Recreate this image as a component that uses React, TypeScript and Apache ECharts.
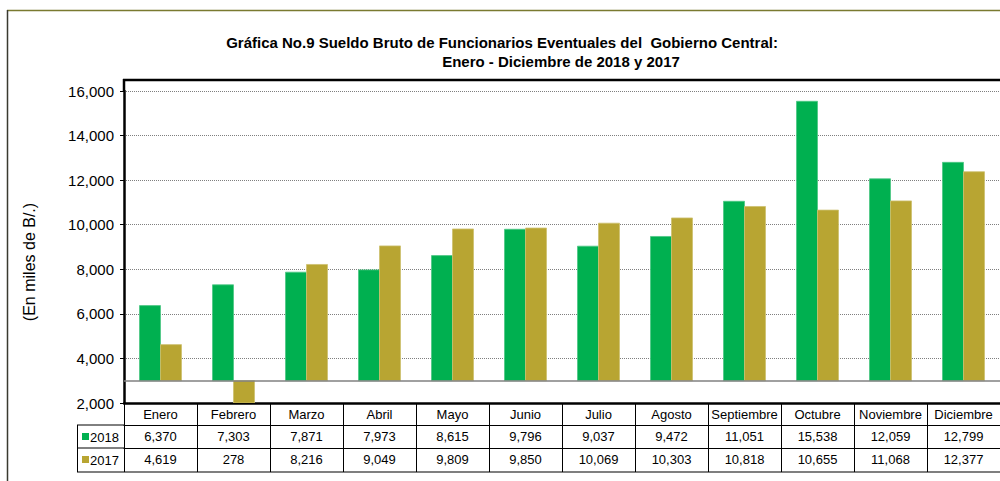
import React, { useEffect, useRef } from "react";
import * as echarts from "echarts";

const months = ["Enero", "Febrero", "Marzo", "Abril", "Mayo", "Junio", "Julio", "Agosto", "Septiembre", "Octubre", "Noviembre", "Diciembre"];
const values2018 = [6370, 7303, 7871, 7973, 8615, 9796, 9037, 9472, 11051, 15538, 12059, 12799];
const values2017 = [4619, 278, 8216, 9049, 9809, 9850, 10069, 10303, 10818, 10655, 11068, 12377];
const seriesNames = ["2018", "2017"];
const yMin = 2000;
const yMax = 16000;
const yStep = 2000;
const baseValue = 3000;
const titleLine1 = "Gráfica No.9 Sueldo Bruto de Funcionarios Eventuales del  Gobierno Central:";
const titleLine2 = "Enero - Diciembre de 2018 y 2017";
const yName = "(En miles de B/.)";

const GREEN = "#00B050";
const GOLD = "#B8A532";
const FONT = "'Liberation Sans', Arial, sans-serif";

const fmt = (v: number) => v.toLocaleString("en-US");

export default function App() {
  const ref = useRef<HTMLDivElement>(null);
  useEffect(() => {
    if (!ref.current) return;
    const chart = echarts.init(ref.current, undefined, { renderer: "svg" });
    const gridLeft = 124;
    const gridTop = 91;
    const gridHeight = 312;
    const gridWidth = 884;

    const tableAxis = (labels: string[], offset: number, tickLen: number, lineW: number) => ({
      type: "category",
      data: labels,
      position: "bottom",
      offset,
      gridIndex: 0,
      axisLine: { show: true, lineStyle: { color: "#000", width: lineW } },
      axisTick: { show: true, length: tickLen, lineStyle: { color: "#000", width: 1 } },
      axisLabel: { show: true, margin: 5, fontSize: 13, color: "#000", fontFamily: FONT, interval: 0 },
      splitLine: { show: false },
    });

    const barW = 21;
    const renderBar = (color: string, left: boolean) => (params: any, api: any) => {
      const idx = params.dataIndex;
      const v = api.value(1);
      const top = api.coord([idx, v]);
      const base = api.coord([idx, baseValue]);
      const x = left ? top[0] - barW : top[0];
      const cs = params.coordSys;
      const clipTop = cs.y;
      const clipBottom = cs.y + cs.height;
      let y1 = Math.min(top[1], base[1]);
      let y2 = Math.max(top[1], base[1]);
      y1 = Math.max(y1, clipTop);
      y2 = Math.min(y2, clipBottom);
      return {
        type: "rect",
        shape: { x, y: y1, width: barW, height: y2 - y1 },
        style: { fill: color, stroke: echarts.color.lift(color, 0.3), lineWidth: 0.8 },
      };
    };

    chart.setOption({
      animation: false,
      backgroundColor: "#fff",
      grid: { left: gridLeft, top: gridTop, width: gridWidth, height: gridHeight, containLabel: false },
      xAxis: [
        {
          ...tableAxis(months, 0, 22, 2),
          axisLine: { show: true, lineStyle: { color: "#000", width: 2.5 } },
        },
        tableAxis(values2018.map(fmt), 22, 23, 1),
        tableAxis(values2017.map(fmt), 45, 24, 1),
      ],
      yAxis: {
        type: "value",
        min: yMin,
        max: yMax,
        interval: yStep,
        axisLine: { show: true, lineStyle: { color: "#000", width: 2.5 } },
        axisTick: { show: true, length: 4, lineStyle: { color: "#000" } },
        axisLabel: {
          fontSize: 15,
          color: "#000",
          fontFamily: FONT,
          margin: 10,
          formatter: (v: number) => fmt(v),
        },
        splitLine: { show: true, lineStyle: { color: "#7f7f7f", type: "dotted", width: 1 } },
      },
      series: [
        {
          name: seriesNames[0],
          type: "custom",
          xAxisIndex: 0,
          renderItem: renderBar(GREEN, true),
          encode: { x: 0, y: 1 },
          data: values2018.map((v, i) => [i, v]),
          clip: true,
          z: 3,
        },
        {
          name: seriesNames[1],
          type: "custom",
          xAxisIndex: 0,
          renderItem: renderBar(GOLD, false),
          encode: { x: 0, y: 1 },
          data: values2017.map((v, i) => [i, v]),
          clip: true,
          z: 3,
        },
        {
          type: "line",
          xAxisIndex: 0,
          data: [],
          markLine: {
            silent: true,
            symbol: "none",
            label: { show: false },
            lineStyle: { color: "#808080", width: 1.5, type: "solid" },
            data: [{ yAxis: baseValue }],
          },
          z: 4,
        },
      ],
      graphic: [
        // outer border
        { type: "line", shape: { x1: 7, y1: 10.5, x2: 1000, y2: 10.5 }, style: { stroke: "#7A7A30", lineWidth: 1.5 } },
        { type: "line", shape: { x1: 7.5, y1: 10, x2: 7.5, y2: 481 }, style: { stroke: "#3A3A30", lineWidth: 1.5 } },
        // plot frame
        { type: "line", shape: { x1: gridLeft - 1, y1: 80, x2: 1000, y2: 80 }, style: { stroke: "#000", lineWidth: 2.5 } },
        { type: "line", shape: { x1: gridLeft, y1: 79, x2: gridLeft, y2: gridTop }, style: { stroke: "#000", lineWidth: 2.5 } },
        // table legend column
        { type: "line", shape: { x1: 77, y1: 425, x2: gridLeft, y2: 425 }, style: { stroke: "#000", lineWidth: 1 } },
        { type: "line", shape: { x1: 77, y1: 448, x2: gridLeft, y2: 448 }, style: { stroke: "#000", lineWidth: 1 } },
        { type: "line", shape: { x1: 77, y1: 472, x2: 1000, y2: 472 }, style: { stroke: "#555", lineWidth: 1.5 } },
        { type: "line", shape: { x1: 77.5, y1: 425, x2: 77.5, y2: 472 }, style: { stroke: "#000", lineWidth: 1 } },
        { type: "rect", shape: { x: 82, y: 433, width: 7, height: 7 }, style: { fill: GREEN } },
        { type: "rect", shape: { x: 82, y: 456, width: 7, height: 7 }, style: { fill: GOLD } },
        { type: "text", x: 90, y: 437, style: { text: seriesNames[0], fontSize: 13, fontFamily: FONT, fill: "#000", textVerticalAlign: "middle" } },
        { type: "text", x: 90, y: 460, style: { text: seriesNames[1], fontSize: 13, fontFamily: FONT, fill: "#000", textVerticalAlign: "middle" } },
        // titles
        { type: "text", x: 502, y: 42, style: { text: titleLine1, fontSize: 15, fontWeight: "bold", fontFamily: FONT, fill: "#000", textAlign: "center", textVerticalAlign: "middle" } },
        { type: "text", x: 561, y: 61, style: { text: titleLine2, fontSize: 15, fontWeight: "bold", fontFamily: FONT, fill: "#000", textAlign: "center", textVerticalAlign: "middle" } },
        // y axis name
        { type: "text", x: 29, y: 262, rotation: Math.PI / 2, style: { text: yName, fontSize: 16, fontFamily: FONT, fill: "#000", textAlign: "center", textVerticalAlign: "middle" } },
      ],
    });
    return () => chart.dispose();
  }, []);
  return <div ref={ref} style={{ position: "absolute", left: 0, top: 0, width: 1000, height: 481 }} />;
}
